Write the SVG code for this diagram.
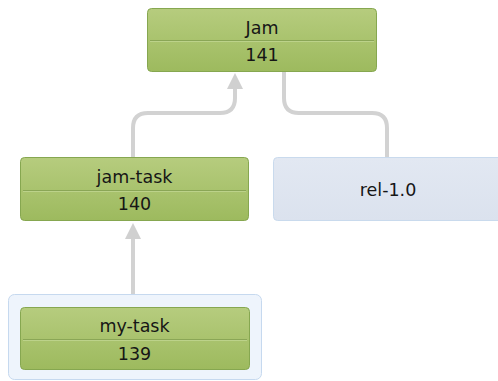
<svg xmlns="http://www.w3.org/2000/svg" width="498" height="381" viewBox="0 0 498 381">
  <defs>
    <linearGradient id="greenFill" x1="0" y1="0" x2="0" y2="1">
      <stop offset="0" stop-color="#b6cc7e"/>
      <stop offset="1" stop-color="#9dba5e"/>
    </linearGradient>
    <linearGradient id="branchFill" x1="0" y1="0" x2="0" y2="1">
      <stop offset="0" stop-color="#e2e8f2"/>
      <stop offset="1" stop-color="#dbe2ee"/>
    </linearGradient>
  </defs>
  <style>
    .box { fill: url(#greenFill); stroke: #86a750; stroke-width: 1; }
    .divider { stroke: #8aa656; stroke-width: 1; }
    .divider-hi { stroke: #bcd28a; stroke-width: 1; }
    .label { font-family: "DejaVu Sans", Verdana, sans-serif; font-size: 17.5px; fill: #161616; text-anchor: middle; }
    .link { fill: none; stroke: #d2d2d2; stroke-width: 4; }
    .head { fill: #d0d0d0; }
    .branch { fill: url(#branchFill); stroke: #c9daed; stroke-width: 1; }
    .group { fill: #eef4fc; stroke: #c6d9ef; stroke-width: 1; }
  </style>

  <rect width="498" height="381" fill="#ffffff"/>

  <!-- connectors -->
  <g id="connectors">
    <path class="link" d="M133,157 V128 Q133,113 148,113 H220 Q235,113 235,98 V88" />
    <path class="head" d="M235,73 L243,89 L227,89 Z"/>
    <path class="link" d="M284,72 V98 Q284,113 299,113 H372 Q387,113 387,128 V157" />
    <path class="link" d="M133,294 V238" />
    <path class="head" d="M133,223 L141,239 L125,239 Z"/>
  </g>

  <!-- working copy group -->
  <g id="group-local">
    <rect class="group" x="8.5" y="294.5" width="253" height="85" rx="6"/>
  </g>

  <g id="node-jam">
    <rect class="box" x="147.5" y="8.5" width="229" height="63" rx="4"/>
    <line class="divider" x1="150" y1="40.5" x2="374" y2="40.5"/>
    <line class="divider-hi" x1="150" y1="41.5" x2="374" y2="41.5"/>
    <text class="label" x="262" y="34">Jam</text>
    <text class="label" x="262" y="61">141</text>
  </g>

  <g id="node-jam-task">
    <rect class="box" x="20.5" y="157.5" width="228" height="63" rx="4"/>
    <line class="divider" x1="23" y1="190.5" x2="246" y2="190.5"/>
    <line class="divider-hi" x1="23" y1="191.5" x2="246" y2="191.5"/>
    <text class="label" x="134.5" y="183">jam-task</text>
    <text class="label" x="134.5" y="210">140</text>
  </g>

  <g id="node-rel">
    <rect class="branch" x="273.5" y="157.5" width="232" height="63" rx="4"/>
    <text class="label" x="388" y="196">rel-1.0</text>
  </g>

  <g id="node-my-task">
    <rect class="box" x="20.5" y="307.5" width="229" height="62" rx="4"/>
    <line class="divider" x1="23" y1="339.5" x2="247" y2="339.5"/>
    <line class="divider-hi" x1="23" y1="340.5" x2="247" y2="340.5"/>
    <text class="label" x="134.5" y="332">my-task</text>
    <text class="label" x="134.5" y="360">139</text>
  </g>
</svg>
